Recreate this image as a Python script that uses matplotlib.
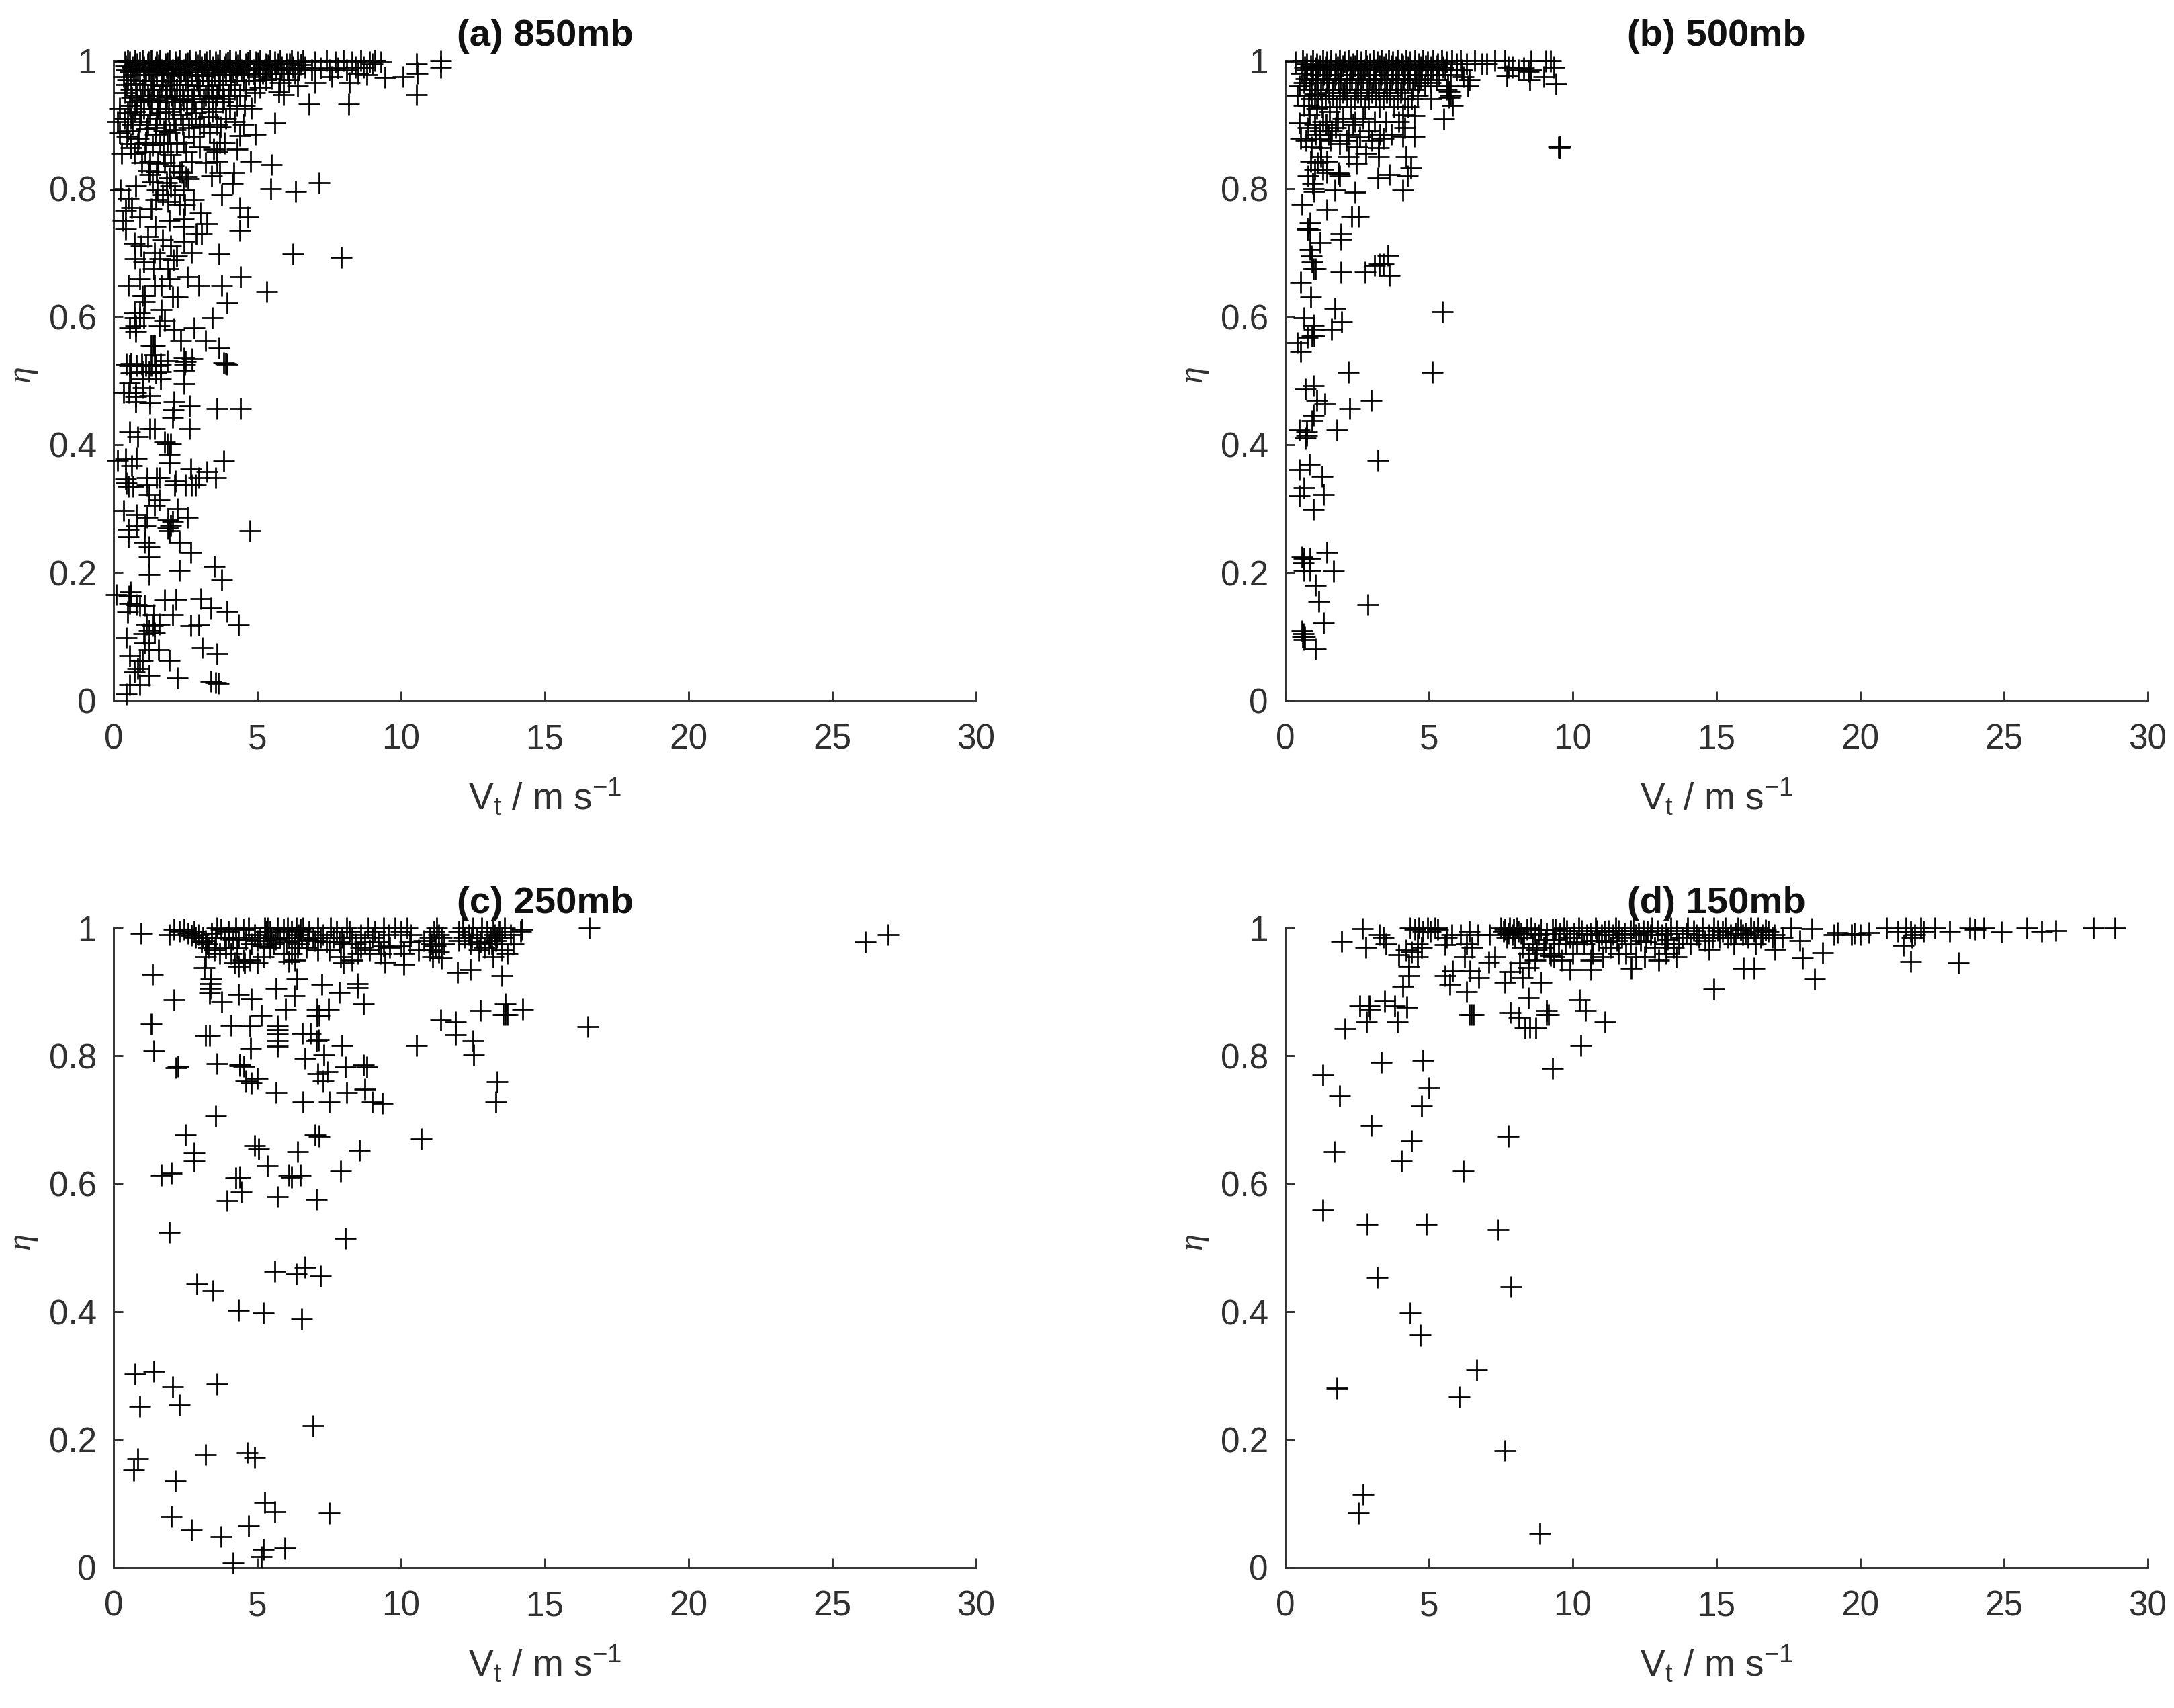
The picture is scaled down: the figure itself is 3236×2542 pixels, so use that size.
import matplotlib
matplotlib.use("Agg")
import matplotlib.pyplot as plt
import numpy as np

plt.rcParams['font.family'] = ['Liberation Sans', 'DejaVu Sans']
plt.rcParams['mathtext.fontset'] = 'custom'
plt.rcParams['mathtext.rm'] = 'Liberation Sans'
plt.rcParams['mathtext.it'] = 'Liberation Sans:italic'
plt.rcParams['mathtext.bf'] = 'Liberation Sans:bold'

titles = ['(a) 850mb', '(b) 500mb', '(c) 250mb', '(d) 150mb']
x_ticks = [0, 5, 10, 15, 20, 25, 30]
y_ticks = [0, 0.2, 0.4, 0.6, 0.8, 1]
y_tick_labels = ['0', '0.2', '0.4', '0.6', '0.8', '1']

points_a = [
 (.45,.01),(.55,.025),(.9,.025),(1.25,.04),(.73,.045),(.85,.05),(.9,.063),(.55,.07),(1.0,.063),(1.93,.063),
 (1.25,.08),(1.57,.08),(2.23,.036),(3.38,.03),(3.54,.028),(3.65,.027),(3.6,.073),(3.09,.083),(.44,.099),(1.08,.09),
 (1.04,.105),(1.23,.11),(1.43,.106),(1.15,.12),(1.41,.12),(1.58,.12),(1.36,.118),
 (2.68,.117),(2.97,.119),(4.35,.119),(3.95,.14),(3.38,.145),(3.03,.16),(2.05,.134),(1.39,.134),(.49,.138),(.8,.15),
 (1.08,.149),(.92,.149),(.57,.152),(.53,.164),(.61,.164),(.1,.166),(.58,.17),(1.78,.157),(2.17,.158),(2.68,.232),
 (2.29,.204),(1.25,.197),(3.5,.21),(3.77,.189),(1.25,.225),(1.25,.24),(1.08,.248),(2.29,.248),(.51,.256),(.51,.268),
 (1.1,.273),(.8,.273),(1.16,.286),(.79,.291),(.34,.297),(1.94,.266),(1.9,.27),(1.98,.274),(2.05,.28),(1.9,.282),
 (2.23,.3),(2.56,.286),(4.75,.266),(1.43,.305),(1.58,.314),(1.25,.322),(1.16,.337),(.51,.335),(.45,.34),(.43,.346),
 (.67,.335),(1.49,.348),(1.6,.348),(1.16,.348),(2.13,.337),(2.15,.343),
 (2.5,.337),(2.86,.337),(2.7,.337),(2.97,.348),(3.25,.358),(3.54,.348),(2.68,.362),(1.94,.371),(3.84,.375),(.63,.367),
 (.14,.376),(.42,.378),(.79,.379),
 (6.25,.698),(7.91,.693),(3.66,.698),(4.41,.662),(5.33,.639),(3.77,.649),(3.95,.621),(2.97,.649),(2.56,.662),
 (1.94,.659),(1.65,.648),(1.43,.648),(.92,.659),(.51,.649),(1.08,.633),(1.0,.633),(2.23,.631),(2.05,.631),
 (1.65,.611),(1.08,.623),(.92,.605),(.73,.605),(.75,.598),(.92,.598),(1.04,.598),(3.44,.598),(1.78,.594),(1.6,.585),
 (2.8,.582),(.57,.582),(.77,.585),(.77,.577),(2.11,.58),(2.34,.562),(3.2,.562),(3.66,.551),(1.31,.555),(1.39,.555),
 (1.43,.555),(1.43,.54),(2.45,.535),(2.48,.526),(2.46,.516),(2.74,.534),(1.88,.531),(2.5,.53),(3.84,.528),(3.95,.526),
 (3.9,.527),(.45,.526),(.57,.524),(.6,.527),(.8,.524),(.98,.526),(1.12,.524),(1.31,.524),(1.47,.524),(1.63,.526),
 (.61,.512),(1.0,.514),(1.23,.514),(1.47,.512),(1.63,.514),(1.63,.503),(1.0,.503),(.57,.496),(.34,.482),(.53,.482),
 (2.46,.495),(1.02,.489),(.77,.482),(.77,.475),(.77,.467),(1.27,.476),(1.27,.465),(2.11,.467),(2.63,.461),(3.6,.456),
 (4.41,.456),(2.05,.443),(2.09,.454),(2.63,.425),(1.43,.425),(1.26,.425),(.57,.42),(.84,.412),(1.77,.404),(1.88,.401),
 (1.99,.401),(1.94,.385),
 (11.38,.999),(11.38,.99),(10.53,.995),(10.57,.98),(10.53,.947),(10.08,.975),(9.44,.974),(8.18,.932),(6.8,.932),(5.92,.946),
 (5.74,.951),(5.6,.902),(5.49,.837),(5.47,.80),(6.34,.795),(7.15,.809),(4.4,.77),(4.67,.755),(4.4,.734),
 (4.92,.885),(4.4,.883),(4.76,.843),(4.18,.825),(4.13,.808),(3.76,.79),(3.24,.745),(3.06,.729),(.29,.855),
 (.24,.797),(.78,.804),(.51,.785),(.42,.766),(.33,.75),(.42,.737),(.91,.755),(1.45,.741),(1.3,.768),(1.94,.75),
 (2.43,.752),(2.43,.741),(2.88,.729),(1.47,.783),(2.48,.774),(3.01,.762),(2.79,.783),(1.85,.809),(1.99,.804),(2.43,.797),
 (2.52,.818),(2.39,.825),(2.6,.815),(1.94,.816),(3.42,.82),(3.69,.825),(3.6,.843),(3.6,.857),(1.27,.843),(1.27,.822),
 (1.54,.839),(1.72,.857),(1.99,.853),(2.52,.857),(1.09,.857),(.6,.864),(.47,.881),(.87,.878),(1.45,.885),(1.94,.888),
 (2.79,.881),(3.33,.888),(3.69,.872),(4.31,.862),(3.86,.871),(.2,.925),(.15,.905),(.2,.887),(.6,.91),(.9,.905),
 (1.2,.9),(1.5,.91),(1.8,.9),(2.1,.91),(2.4,.9),(2.7,.91),(3.0,.9),(3.3,.912),(3.6,.9),(3.9,.91),
 (4.2,.905),(4.5,.9),(.55,.93),(.8,.935),(1.05,.925),(1.3,.935),(1.55,.925),(1.8,.935),(2.05,.925),(2.3,.935),
 (2.55,.925),(2.8,.935),(3.05,.925),(3.3,.935),(3.55,.925),(3.8,.935),(4.05,.925),(4.3,.93),(4.55,.93),(4.8,.925),
 (.4,.95),(.6,.955),(.8,.945),(1.0,.955),(1.2,.945),(1.4,.955),(1.6,.945),(1.8,.955),(2.0,.945),(2.2,.955),
 (2.4,.945),(2.6,.955),(2.8,.945),(3.0,.955),(3.2,.945),(3.4,.955),(3.6,.945),(3.8,.955),(4.0,.945),(4.2,.955),
 (4.4,.945),(4.6,.955),(4.9,.95),(5.1,.958),(.35,.975),(.5,.97),(.7,.978),(.9,.968),(1.1,.978),(1.3,.968),
 (1.5,.978),(1.7,.968),(1.9,.978),(2.1,.968),(2.3,.978),(2.5,.968),(2.7,.978),(2.9,.968),(3.1,.978),(3.3,.968),
 (3.5,.978),(3.7,.968),(3.9,.978),(4.1,.968),(4.3,.978),(4.5,.968),(4.7,.978),(4.9,.968),(5.1,.975),(5.3,.97),
 (5.5,.972),(5.8,.965),(6.1,.97),(6.4,.96),(7.0,.965),(7.6,.975),(8.2,.965),(8.5,.98),(8.8,.978),(.45,.985),
 (.65,.99),(.85,.985),(1.05,.99),(1.25,.985),(1.45,.99),(1.65,.985),(1.85,.99),(2.05,.985),(2.25,.99),(2.45,.985),
 (2.65,.99),(2.85,.985),(3.05,.99),(3.25,.985),(3.45,.99),(3.65,.985),(3.85,.99),(4.05,.985),(4.25,.99),(4.45,.985),
 (4.65,.99),(4.85,.985),(5.05,.99),(5.25,.985),(5.45,.99),(5.65,.985),(5.85,.99),(6.05,.985),(6.25,.99),(6.45,.985),
 (6.65,.99),(6.9,.985),(7.2,.988),(7.5,.985),(7.8,.988),(8.1,.985),(8.4,.99),(8.7,.99),(9.0,.995),(.4,.998),
 (.48,1),(.55,.998),(.75,1),(.82,.995),(1.0,1),(1.18,.995),(1.3,1),(1.5,.998),(1.62,1),(1.8,.995),
 (1.95,1),(2.15,.998),(2.3,1),(2.5,.995),(2.65,1),(2.85,.998),(3.0,1),(3.15,.995),(3.35,1),(3.55,.998),
 (3.7,1),(3.9,.995),(4.05,1),(4.25,.998),(4.4,1),(4.6,.995),(4.75,1),(4.95,.998),(5.1,1),(5.3,.995),
 (5.45,1),(5.6,.998),(5.8,1),(6.0,.995),(6.2,1),(6.4,.998),(6.6,1),(7.0,.998),(7.4,1),(7.7,.998),
 (8.0,1),(8.3,.998),(8.6,1),(8.9,.998),(9.1,1),(9.3,.998),
 (.42,.992),(.58,.982),(.72,.993),(.92,.997),(1.12,.983),(1.22,.998),(1.38,.982),(1.56,.993),(1.72,.981),(1.88,.996),
 (2.02,.979),(2.18,.992),(2.34,.981),(2.56,.996),(2.72,.982),(2.92,.993),(3.08,.976),(3.22,.998),(3.42,.981),(3.62,.993),
 (3.78,.983),(3.98,.997),(4.16,.982),(4.32,.993),(4.52,.98),(4.68,.997),(4.88,.979),(5.02,.996),(5.18,.98),(5.38,.993),
 (5.52,.98),(5.72,.995),(5.92,.98),(6.12,.995),(6.32,.98),(6.52,.994),(.45,.962),(.62,.942),(.76,.963),(.94,.938),
 (1.08,.962),(1.24,.94),(1.36,.962),(1.52,.938),(1.66,.96),(1.84,.942),(1.96,.962),(2.12,.94),(2.28,.962),(2.44,.938),
 (2.58,.962),(2.74,.94),(2.94,.96),(3.12,.94),(3.26,.96),(3.46,.942),(3.64,.962),(3.84,.94),(4.06,.962),(.48,.918),
 (.66,.9),(.74,.92),(.96,.916),(1.14,.893),(1.26,.915),(1.44,.895),(1.62,.918),(1.76,.89),(1.92,.92),(2.16,.892),
 (2.34,.916),(2.62,.895),(2.86,.918),(3.14,.897),(3.44,.92),(3.72,.896),(.38,.91),(.5,.89),(.58,.87),(.72,.855),
 (.84,.87),(.98,.84),(1.12,.872),(1.22,.828),(1.36,.868),(1.5,.826),(1.62,.87),(1.78,.84),(1.86,.872),(2.08,.835),
 (2.2,.87),(2.3,.826),(2.44,.872),(2.7,.842),(3.0,.865),(3.2,.84),(3.48,.862),(1.36,.81),(1.52,.798),(1.7,.79),
 (1.9,.78),(2.12,.79),(2.28,.775),(.62,.77),(.72,.715),(.95,.71),(1.18,.725),(1.42,.7),(1.7,.72),(1.98,.71),
 (2.2,.695),(2.46,.718),(2.7,.7),(1.05,.685),(1.38,.675),(1.62,.69),(1.9,.675),(2.08,.688),(.75,.69),
]

points_b = [
 (1.95,.729),(1.95,.721),(1.21,.716),(.86,.736),(.76,.736),(.86,.705),(.9,.695),(.94,.685),(1.06,.675),(.98,.675),
 (1.95,.669),(2.77,.669),(3.11,.68),(3.28,.682),(3.4,.682),(3.57,.696),(3.63,.664),(.53,.654),(.88,.631),(1.74,.613),
 (5.46,.608),(.65,.598),(.98,.587),(1.0,.58),(1.97,.592),(1.62,.58),(.94,.57),(.76,.568),(1.0,.57),(.41,.559),
 (.53,.546),(5.11,.513),(2.19,.513),(.98,.492),(.71,.487),(1.1,.469),(1.39,.464),(2.24,.456),(3.0,.469),(.98,.446),
 (.94,.438),(1.79,.423),(.48,.423),(.75,.415),(.71,.41),(.74,.42),(3.22,.376),(.83,.369),(.48,.361),(1.28,.35),
 (.65,.333),(.48,.32),(1.33,.322),(.99,.299),(1.45,.232),(.59,.225),(.65,.222),(.87,.222),(.62,.215),(.65,.204),
 (.87,.204),(1.68,.202),(1.05,.181),(1.16,.155),(2.88,.15),(1.33,.122),(.59,.109),(.62,.105),(.65,.101),(.6,.1),
 (.68,.1),(.66,.095),(1.05,.081),
 (9.53,.864),(9.55,.866),(9.5,.865),(9.24,.999),(9.07,.999),(9.35,.99),(9.41,.963),(9.0,.975),(8.56,.999),(8.46,.983),
 (7.7,.976),(7.9,.99),(8.1,.985),(8.3,.988),(8.5,.97),(8.55,.985),(7.0,.995),(7.3,1),(7.65,1),(7.75,.99),
 (6.6,1),(6.85,.995),(6.2,.975),(6.4,.97),(6.35,.96),(5.07,.94),(5.52,.909),(4.49,.914),(5.81,.93),(5.7,.942),
 (5.6,.955),(5.7,.952),(5.75,.945),(5.65,.96),(4.08,.881),(4.49,.881),(3.24,.864),(4.2,.85),(4.37,.832),(4.25,.819),
 (3.63,.822),(3.22,.816),(4.08,.798),(2.42,.794),(1.72,.798),(.98,.8),(1.88,.823),(1.9,.82),(1.85,.825),(2.48,.839),
 (2.19,.85),(2.81,.855),(3.24,.85),(.89,.843),(1.45,.767),(.59,.775),(2.31,.757),(2.54,.757),(.86,.746),(.77,.738),
 (.41,.945),(.48,.902),(.53,.878),(1.18,.877),(1.57,.875),(1.25,.864),(1.45,.843),(1.25,.85),(1.3,.83),
 (1.45,.825),(.8,.82),(.95,.808),(1.0,.795),
 (.65,.93),(.85,.915),(1.1,.925),(1.3,.905),(1.55,.92),(1.75,.895),(2.0,.91),(2.2,.885),(2.35,.9),(2.6,.88),
 (2.7,.91),(2.9,.89),(3.1,.905),(3.3,.885),(3.5,.905),(3.7,.885),(3.95,.905),(4.15,.895),(4.1,.915),(.8,.895),
 (1.05,.885),(1.5,.885),(1.9,.87),(2.5,.865),(.9,.94),(1.15,.945),(1.4,.94),(1.65,.945),(1.9,.94),(2.15,.945),
 (2.4,.94),(2.65,.945),(2.9,.94),(3.15,.945),(3.4,.94),(3.65,.945),(3.9,.94),(4.15,.94),(4.4,.94),(4.6,.945),
 (.5,.96),(.65,.965),(.85,.955),(1.05,.965),(1.25,.955),(1.45,.965),(1.65,.955),(1.85,.965),(2.05,.955),(2.25,.965),
 (2.45,.955),(2.65,.965),(2.85,.955),(3.05,.965),(3.25,.955),(3.45,.965),(3.65,.955),(3.85,.965),(4.05,.955),(4.25,.965),
 (4.45,.955),(4.65,.965),(4.85,.96),(5.05,.965),(5.25,.97),(.35,.998),(.55,.98),(.75,.985),(.95,.978),(1.15,.985),
 (1.35,.978),(1.55,.985),(1.75,.978),(1.95,.985),(2.15,.978),(2.35,.985),(2.55,.978),(2.75,.985),(2.95,.978),(3.15,.985),
 (3.35,.978),(3.55,.985),(3.75,.978),(3.95,.985),(4.15,.978),(4.35,.985),(4.55,.978),(4.75,.985),(4.95,.978),(5.15,.985),
 (5.35,.978),(5.55,.985),(5.75,.978),(5.95,.985),(6.15,.985),(.6,1),(.75,.995),(.95,1),(1.1,.995),(1.3,1),
 (1.45,.998),(1.6,1),(1.75,.995),(1.9,1),(2.05,.998),(2.2,1),(2.35,.995),(2.5,1),(2.65,.998),(2.8,1),
 (2.95,.995),(3.05,1),(3.2,.998),(3.35,1),(3.5,.995),(3.6,1),(3.75,.998),(3.9,1),(4.05,.995),(4.2,1),
 (4.35,.998),(4.5,1),(4.65,.995),(4.8,1),(4.95,.998),(5.15,1),(5.3,.995),(5.45,1),(5.6,.998),(5.8,1),
 (5.95,.995),(6.1,1),(6.3,.995),
 (.68,.99),(.88,.992),(1.04,.988),(1.22,.992),(1.42,.99),(1.58,.992),(1.82,.99),(2.02,.992),(2.26,.99),(2.44,.992),
 (2.62,.99),(2.86,.992),(3.08,.99),(3.28,.992),(3.44,.99),(3.68,.992),(3.86,.99),(4.08,.992),(4.28,.99),(4.48,.992),
 (4.72,.99),(4.88,.992),(5.08,.99),(5.28,.992),(5.48,.99),(.72,.972),(.92,.97),(1.12,.972),(1.32,.97),(1.52,.972),
 (1.72,.97),(1.92,.972),(2.12,.97),(2.32,.972),(2.52,.97),(2.72,.972),(2.92,.97),(3.12,.972),(3.32,.97),(3.52,.972),
 (3.72,.97),(3.92,.972),(4.12,.97),(4.32,.972),(4.52,.97),(4.72,.972),(.82,.93),(1.02,.948),(1.28,.928),(1.52,.95),
 (1.78,.928),(2.02,.95),(2.28,.928),(2.52,.95),(2.78,.928),(3.02,.95),(3.28,.928),(3.52,.95),(3.78,.928),(4.02,.95),
 (4.28,.928),(1.02,.9),(1.22,.89),(1.42,.9),(1.62,.89),(1.82,.905),(2.12,.875),(2.42,.905),(3.02,.875),(3.42,.878),
 (.72,.875),(.92,.865),(1.12,.84),(1.02,.83),
]

points_c = [
 (.96,.992),(1.93,.99),(1.35,.928),(2.11,.888),(1.3,.85),(1.41,.808),(2.18,.782),(2.25,.784),(3.59,.788),(3.36,.913),
 (3.36,.905),(3.38,.92),(3.33,.898),(3.15,.938),(3.76,.884),(4.09,.848),(3.2,.832),(3.33,.832),(4.4,.785),(4.54,.784),
 (4.77,.812),(5.65,.905),(4.35,.896),(4.8,.889),(6.28,.894),(6.39,.92),(5.99,.873),(7.25,.912),(7.84,.899),(7.48,.873),
 (7.08,.862),(7.15,.863),(7.08,.873),(8.68,.881),(8.47,.913),(8.47,.906),(5.71,.847),(5.71,.84),(5.71,.834),(5.13,.863),
 (4.74,.847),(6.57,.835),(6.85,.835),(7.06,.824),(7.12,.825),(5.71,.824),(5.71,.815),(7.95,.816),(7.32,.801),(6.65,.796),
 (8.05,.783),(8.7,.786),(7.43,.775),(10.53,.816),(11.39,.856),(11.9,.853),(11.9,.833),(12.49,.824),(12.52,.801),(12.75,.871),
 (13.61,.881),(13.61,.864),(13.55,.864),(13.68,.865),(14.24,.873),(13.5,.925),(12.41,.935),(11.97,.931),(10.09,.943),(9.43,.946),
 (11.1,.955),(11.4,.953),(11.0,.965),(11.3,.962),(14.2,.998),(14.15,.995),(2.5,.676),(2.8,.648),(2.8,.635),(1.65,.613),
 (2.0,.617),(1.95,.524),(2.9,.443),(3.45,.433),(3.55,.706),(3.95,.574),(4.25,.609),(4.4,.61),(4.45,.587),(4.35,.402),
 (5.2,.398),(4.9,.66),(5.05,.654),(5.35,.628),(5.6,.463),(5.7,.58),(6.2,.61),(6.35,.459),(6.65,.47),(6.55,.389),
 (7.2,.456),(7.05,.576),(6.4,.65),(7.0,.676),(7.15,.674),(7.9,.62),(8.05,.515),(8.55,.652),(6.5,.613),(6.1,.613),
 (10.7,.67),(13.3,.728),(13.35,.759),(16.5,.846),(16.55,1.0),(26.15,.978),(26.95,.989),(.75,.302),(1.4,.307),(2.05,.283),
 (2.3,.254),(.9,.252),(3.6,.287),(6.95,.222),(.7,.152),(.85,.17),(3.2,.176),(4.65,.18),(4.9,.172),(2.15,.135),
 (2.0,.08),(2.7,.059),(3.75,.048),(4.7,.065),(5.25,.102),(5.6,.087),(5.15,.017),(5.2,.028),(5.95,.03),(7.5,.085),
 (4.15,.007),(6.6,.728),(7.3,.761),(7.5,.728),(8.1,.743),(8.8,.783),(9.0,.728),(9.35,.726),(8.75,.748),(7.1,.772),
 (5.65,.743),(5.0,.765),(4.8,.757),(4.4,.787),(4.6,.76),(3.3,.97),(3.5,.965),(3.7,.96),(3.2,.955),(3.9,.968),
 (4.1,.96),(4.3,.968),(4.5,.95),(4.2,.945),(4.35,.94),(4.55,.945),(4.75,.95),(5.0,.945),(5.2,.955),(5.45,.97),
 (5.55,.975),(5.9,.96),(6.2,.96),(6.3,.95),(6.1,.948),(6.4,.97),(6.7,.97),(7.1,.965),(7.5,.965),(7.9,.955),
 (8.0,.945),(8.3,.95),(8.5,.96),(8.6,.97),(8.9,.965),(9.3,.96),(9.4,.972),(9.6,.97),(10.0,.972),(10.3,.978),
 (10.6,.965),(10.8,.98),(11.5,.975),(12.0,.98),(12.4,.975),(12.7,.965),(12.9,.97),(13.2,.955),(13.5,.965),(13.7,.96),
 (13.9,.975),(2.1,.998),(2.3,.995),(2.45,.998),(2.6,.992),(2.8,.995),(2.95,.99),(3.1,.985),(3.2,.98),(3.4,.992),
 (3.6,1),(3.75,.998),(4.0,.995),(4.25,1),(4.5,.998),(4.7,1),(4.9,.99),(5.1,.985),(5.25,1),(5.3,.995),
 (5.35,1),(5.45,.995),(5.7,1),(5.9,.998),(6.05,1),(6.2,.995),(6.35,1),(6.42,.99),(6.5,.998),(6.6,1),
 (6.8,.995),(7.1,1),(7.3,.99),(7.55,1),(7.75,.995),(7.95,.985),(8.1,1),(8.2,.995),(8.3,.985),(8.6,.99),
 (8.85,1),(9.1,.995),(9.4,1),(9.55,.99),(9.8,1),(10.0,.995),(10.2,1),(10.35,.99),(11.0,.985),(11.15,.995),
 (11.25,1),(11.3,.99),(11.4,.985),(12.0,.995),(12.15,1),(12.35,.99),(12.5,1),(12.65,.985),(12.8,1),(13.0,.995),
 (13.1,.985),(13.2,1),(13.25,.99),(13.3,.98),(13.4,.995),(13.6,1),(13.8,.99),(4.0,.985),(5.0,.98),(6.0,.978),
 (7.0,.98),(8.0,.975),(9.0,.985),(10.1,.96),
 (2.7,.988),(2.85,.985),(3.05,.978),(3.25,.975),(3.55,.985),(3.85,.985),(4.15,.982),(4.35,.985),(4.6,.982),(4.8,.975),
 (5.2,.972),(5.35,.985),(5.5,.985),(5.62,.982),(5.8,.985),(6.1,.985),(6.3,.98),(6.45,.975),(6.55,.985),(6.75,.982),
 (6.95,.985),(7.2,.985),(7.4,.978),(7.65,.985),(7.85,.978),(8.4,.975),(8.75,.978),(9.2,.978),(11.05,.975),(11.2,.972),
 (12.2,.985),(12.45,.985),(12.75,.978),(13.05,.975),(13.15,.975),(13.35,.985),(13.5,.985),
]

points_d = [
 (1.96,.979),(2.8,.97),(2.68,.999),(3.27,.99),(3.4,.985),(3.5,.975),(3.94,.958),(4.29,.94),(4.29,.925),(4.09,.909),
 (2.6,.878),(2.93,.878),(2.95,.873),(3.45,.885),(3.8,.878),(4.24,.876),(2.82,.853),(3.91,.853),(2.08,.842),(6.47,.864),
 (6.55,.864),(6.4,.864),(7.82,.868),(8.12,.86),(8.34,.843),(8.71,.843),(8.5,.845),(9.09,.864),(9.15,.864),(9.09,.871),
 (10.23,.888),(10.45,.871),(11.13,.853),(10.28,.816),(9.31,.78),(5.55,.974),(5.55,.925),(5.81,.933),
 (6.43,.933),(6.73,.922),(5.73,.912),(6.3,.9),(6.25,.955),(7.3,.955),(7.07,.946),(7.82,.932),(7.64,.915),(8.24,.922),
 (8.45,.938),(8.91,.915),(8.45,.891),(9.24,.957),(9.6,.95),(9.9,.935),(10.62,.935),(10.62,.95),(12.03,.937),(14.75,.966),
 (14.9,.904),(15.94,.937),(16.3,.937),(17.03,.966),(18.0,.953),(18.7,.961),(18.4,.92),(21.75,.947),(21.5,.973),(23.4,.945),
 (18.32,.999),(28.85,1),(28.1,1),(26.8,.996),(26.3,.995),(25.8,1),(24.9,.994),(24.3,1),(24.0,.998),(23.8,1),
 (23.1,.995),(22.6,1),(22.2,.995),(22.1,1),(21.9,.99),(21.8,.985),(21.75,.995),(21.6,1),(21.3,.995),(20.9,1),
 (20.3,.993),(20.0,.99),(19.8,.992),(19.7,.99),(19.2,.993),(19.1,.99),(1.3,.77),(1.9,.737),(1.7,.65),(1.3,.559),
 (3.0,.691),(3.35,.79),(4.8,.793),(5.0,.75),(4.75,.722),(4.4,.667),(4.05,.635),(2.85,.537),(4.9,.537),(3.2,.454),
 (4.35,.398),(4.7,.363),(6.2,.62),(7.75,.674),(7.4,.528),(7.85,.439),(1.8,.28),(6.05,.267),(6.65,.309),(7.65,.183),
 (2.7,.115),(2.55,.085),(8.85,.054),(4.2,.965),(4.4,.962),(4.6,.955),(4.75,.97),(4.6,.975),(4.35,1),(4.5,.998),
 (4.65,1),(4.8,.995),(4.95,1),(5.05,.995),(5.2,1),(5.3,.998),(5.6,.985),(5.8,.99),(6.1,.99),(6.3,.975),
 (6.5,.97),(6.4,.995),(6.7,.99),(7.1,.99),(7.5,1),(7.6,.995),(7.7,.985),(7.8,1),(7.9,.99),(8.0,.985),
 (8.05,1),(8.1,.995),(8.3,.985),(8.45,.96),(8.55,1),(8.6,.975),(8.8,.99),(9.0,.97),(9.2,.96),(9.4,.998),
 (9.5,.975),(9.7,1),(9.9,.985),(10.0,.96),(10.2,1),(10.4,.975),(10.5,.99),(10.7,.96),(10.8,1),(10.9,.98),
 (11.1,.995),(11.3,.97),(11.5,1),(11.7,.985),(11.85,.96),(12.0,.975),(12.1,1),(12.2,.99),(12.35,.98),(12.5,.955),
 (12.6,.995),(12.75,1),(12.85,.97),(13.0,.95),(13.1,.99),(13.2,.975),(13.4,1),(13.5,.97),(13.6,.955),(13.8,.985),
 (14.0,1),(14.1,.975),(14.3,.99),(14.5,1),(14.6,.98),(14.75,.99),(14.9,1),(15.1,.985),(15.2,.995),(15.3,1),
 (15.5,.99),(15.6,.975),(15.75,1),(15.9,.99),(16.1,.985),(16.2,1),(16.35,.975),(16.45,1),(16.6,.99),(16.8,.995),
 (17.0,.99),(17.3,.985),(17.6,1),(17.9,.98),
 (7.65,.998),(7.75,.992),(7.95,.998),(8.2,.992),(8.4,.998),(8.7,.992),(8.9,.998),(9.1,.992),(9.3,.998),(9.55,.992),
 (9.8,.996),(10.05,.992),(10.3,.996),(10.6,.992),(10.85,.996),(11.0,.99),(11.25,.996),(11.4,.99),(11.6,.996),(11.8,.992),
 (12.0,.996),(12.3,.992),(12.45,.996),(12.7,.99),(12.95,.996),(13.25,.992),(13.6,.996),(13.95,.992),(14.2,.996),(14.4,.985),
 (14.85,.985),(15.05,.996),(15.4,.985),(15.65,.992),(15.85,.997),(16.0,.992),(16.3,.995),(16.55,.985),(16.7,.997),(16.95,.985),
 (9.05,.982),(9.35,.982),(9.75,.975),(10.15,.978),(10.65,.98),(11.15,.978),(11.55,.98),(12.55,.978),(13.3,.982),(13.7,.975),
 (8.25,.97),(8.75,.965),(9.35,.955),(11.05,.955),(11.6,.96),(12.2,.955),(13.25,.96),(8.7,.95),(8.15,.945),
]

W, H, DPI = 3237, 2542, 300
fig = plt.figure(figsize=(W / DPI, H / DPI), dpi=DPI)
boxes = [(169, 90, 1284, 953), (1913, 90, 1284, 953), (169, 1381, 1284, 952), (1913, 1381, 1284, 952)]
all_points = [points_a, points_b, points_c, points_d]
dark = '#303030'

for (l, t, w, h), pts, title in zip(boxes, all_points, titles):
    ax = fig.add_axes([l / W, 1 - (t + h) / H, w / W, h / H])
    arr = np.array(pts)
    ax.plot(arr[:, 0], arr[:, 1], linestyle='none', marker='+', color='k',
            markersize=7.7, markeredgewidth=0.65, clip_on=False, zorder=3)
    ax.set_xlim(0, 30)
    ax.set_ylim(0, 1)
    ax.set_xticks(x_ticks)
    ax.set_yticks(y_ticks)
    ax.set_yticklabels(y_tick_labels)
    ax.tick_params(axis='x', direction='in', length=3.4, width=0.7, color=dark, labelcolor=dark, labelsize=12.3, pad=8)
    ax.tick_params(axis='y', direction='in', length=3.4, width=0.7, color=dark, labelcolor=dark, labelsize=12.3, pad=6)
    for side in ('top', 'right'):
        ax.spines[side].set_visible(False)
    for side in ('left', 'bottom'):
        ax.spines[side].set_linewidth(0.7)
        ax.spines[side].set_color(dark)
    ax.set_title(title, fontsize=13.5, fontweight='bold', pad=5.3, color='#111111', zorder=5)
    ax.set_xlabel(r'$\mathrm{V_t\ /\ m\ s^{-1}}$', fontsize=13.2, color=dark, verticalalignment='baseline')
    ax.xaxis.set_label_coords(0.5, -0.169)
    ax.set_ylabel('\u03b7', fontsize=12, color=dark, family='Liberation Serif', style='italic', verticalalignment='center')
    ax.yaxis.set_label_coords(-0.107, 0.51)

fig.savefig('out.png', dpi=DPI)
